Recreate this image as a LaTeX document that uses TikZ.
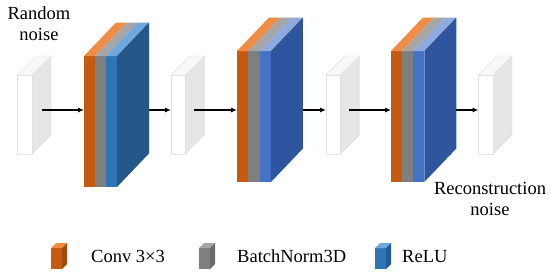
\documentclass[tikz,border=0pt]{standalone}
\usepackage{fontspec}
\setmainfont{Liberation Serif}
\usetikzlibrary{arrows.meta}
\definecolor{cvF}{HTML}{C55A11}
\definecolor{cvT}{HTML}{F08C45}
\definecolor{cvS}{HTML}{A04A0E}
\definecolor{bnF}{HTML}{7F7F7F}
\definecolor{bnT}{HTML}{A6A6A6}
\definecolor{bnS}{HTML}{6B6B6B}
\definecolor{rlaF}{HTML}{2E75B6}
\definecolor{rlaT}{HTML}{6FA8DC}
\definecolor{rlaS}{HTML}{245888}
\definecolor{rlbF}{HTML}{4472C4}
\definecolor{rlbT}{HTML}{8FAADC}
\definecolor{rlbS}{HTML}{2F559F}
\definecolor{legS}{HTML}{22599A}
\definecolor{plEdge}{HTML}{E2E2E2}
\definecolor{plSide}{HTML}{E6E6E6}
\definecolor{plTop}{HTML}{F8F8F8}
\newcommand\cnnblock[5]{%
  % #1 x0, #2 layer width, #3 top, #4 bottom, #5 relu set (a/b)
  \fill[cvF] (#1,#3) rectangle ({#1+#2},#4);
  \fill[bnF] ({#1+#2},#3) rectangle ({#1+2*#2},#4);
  \fill[rl#5F] ({#1+2*#2},#3) rectangle ({#1+3*#2},#4);
  \fill[cvT] (#1,#3) -- ({#1+#2},#3) -- ({#1+#2+32},{#3-33.5}) -- ({#1+32},{#3-33.5}) -- cycle;
  \fill[bnT] ({#1+#2},#3) -- ({#1+2*#2},#3) -- ({#1+2*#2+32},{#3-33.5}) -- ({#1+#2+32},{#3-33.5}) -- cycle;
  \fill[rl#5T] ({#1+2*#2},#3) -- ({#1+3*#2},#3) -- ({#1+3*#2+32},{#3-33.5}) -- ({#1+2*#2+32},{#3-33.5}) -- cycle;
  \fill[rl#5S] ({#1+3*#2},#3) -- ({#1+3*#2+32},{#3-33.5}) -- ({#1+3*#2+32},{#4-33.5}) -- ({#1+3*#2},#4) -- cycle;
}
\newcommand\wplane[1]{%
  \filldraw[fill=plSide,draw=plEdge,line width=0.4pt] ({#1+14.5},75) -- ({#1+33.5},56) -- ({#1+33.5},135) -- ({#1+14.5},154) -- cycle;
  \filldraw[fill=plTop,draw=plEdge,line width=0.4pt] (#1,75) -- ({#1+14.5},75) -- ({#1+33.5},56) -- ({#1+19},56) -- cycle;
  \filldraw[fill=white,draw=plEdge,line width=0.4pt] (#1,75) rectangle ({#1+14.5},154);
}
\newcommand\legcube[3]{%
  % #1 x, #2 front colour, #3 top colour, side colour via \legside
  \fill[#2] (#1,248) rectangle ({#1+11},269);
  \fill[#3] (#1,248) -- ({#1+11},248) -- ({#1+16},243) -- ({#1+5},243) -- cycle;
  \fill[\legside] ({#1+11},248) -- ({#1+16},243) -- ({#1+16},264) -- ({#1+11},269) -- cycle;
}
\tikzset{
  arr/.style={-{Latex[length=6pt,width=5pt]},line width=1.1pt,black},
  lbl/.style={font=\fontsize{18.5}{21}\selectfont,inner sep=0pt,align=center},
  leg/.style={font=\fontsize{18.5}{21}\selectfont,inner sep=0pt,anchor=base west}
}
\begin{document}
\begin{tikzpicture}[x=1pt,y=-1pt]
\useasboundingbox[fill=white] (0,0) rectangle (550,276);
% planes
\wplane{17.5}
\wplane{171}
\wplane{326}
\wplane{478.5}
% blocks
\cnnblock{84}{11}{56}{187}{a}
\cnnblock{237}{11.33}{51}{182}{b}
\cnnblock{391}{11.1}{51}{182}{b}
% connector end points
\coordinate (p1) at (41.5,110);
\coordinate (b1in) at (84,110);
\coordinate (b1out) at (149,110);
\coordinate (p2in) at (171,110);
\coordinate (p2) at (194,110);
\coordinate (b2in) at (237,110);
\coordinate (b2out) at (303,110);
\coordinate (p3in) at (326,110);
\coordinate (p3) at (348.5,110);
\coordinate (b3in) at (391,110);
\coordinate (b3out) at (456.3,110);
\coordinate (p4in) at (478.5,110);
\draw[arr] (p1) -- (b1in);
\draw[arr] (b1out) -- (p2in);
\draw[arr] (p2) -- (b2in);
\draw[arr] (b2out) -- (p3in);
\draw[arr] (p3) -- (b3in);
\draw[arr] (b3out) -- (p4in);
% labels
\node[lbl] (rn) at (39,24) {Random\\noise};
\node[lbl] (rc) at (490,199) {Reconstruction\\noise};
% legend
\def\legside{cvS}\legcube{51}{cvF}{cvT}
\def\legside{bnS}\legcube{199}{bnF}{bnT}
\def\legside{legS}\legcube{375}{rlaF}{rlaT}
\node[leg] (l1) at (91,262) {Conv 3×3};
\node[leg] (l2) at (237,262) {BatchNorm3D};
\node[leg] (l3) at (402,262) {ReLU};
\end{tikzpicture}
\end{document}
